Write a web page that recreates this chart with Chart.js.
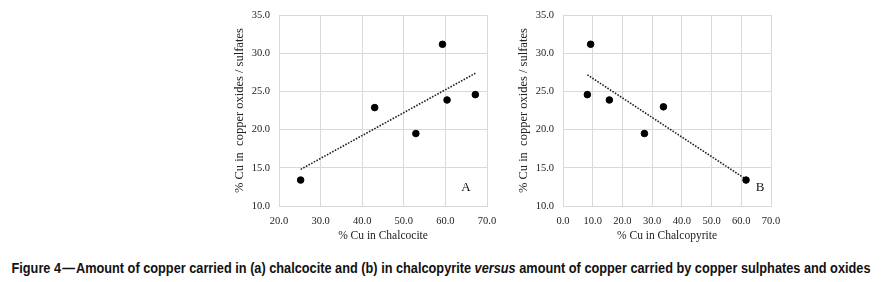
<!DOCTYPE html>
<html>
<head>
<meta charset="utf-8">
<script src="https://cdn.jsdelivr.net/npm/chart.js@4.4.0/dist/chart.umd.min.js"></script>
<style>
  body { margin: 0; background: #fff; width: 881px; height: 282px; position: relative; overflow: hidden; }
  .box { position: absolute; top: 0; width: 267px; height: 245px; }
  #capText {
    position: absolute; left: 440.5px; top: 259px;
    font-family: "Liberation Sans Narrow", "Liberation Sans", Arial, sans-serif;
    font-weight: bold; font-size: 15px; color: #111; white-space: nowrap;
    transform-origin: 50% 50%;
  }
</style>
</head>
<body>
<div class="box" style="left:230px"><canvas id="chartA"></canvas></div>
<div class="box" style="left:514px"><canvas id="chartB"></canvas></div>
<div id="capText">Figure 4&#8202;&mdash;&#8202;Amount of copper carried in (a) chalcocite and (b) in chalcopyrite <i>versus</i> amount of copper carried by copper sulphates and oxides</div>
<script>
// panel A: chalcocite
var chalcociteX = [25.2, 43.0, 52.9, 59.3, 60.4, 67.2];
var oxidesA     = [13.4, 22.9, 19.5, 31.2, 23.9, 24.6];
var trendAx = [25.2, 67.2];
var trendAy = [14.8, 27.4];

// panel B: chalcopyrite
var chalcopyriteX = [8.2, 9.3, 15.6, 27.4, 33.8, 61.6];
var oxidesB       = [24.6, 31.2, 23.9, 19.5, 23.0, 13.4];
var trendBx = [8.2, 61.6];
var trendBy = [27.2, 13.5];

var serif = "'Liberation Serif', 'DejaVu Serif', serif";

// squeeze the caption to the width it has in the figure
var cap = document.getElementById('capText');
var w = cap.getBoundingClientRect().width;
cap.style.transform = 'translateX(-50%) scaleX(' + (859 / w) + ')';

function pts(xs, ys){
  var out = [];
  for(var i = 0; i < xs.length; i++){
    out.push({x: xs[i], y: ys[i]});
  }
  return out;
}

// letter in the lower right corner of the plot
var cornerLetter = {
  id: 'cornerLetter',
  afterDraw: function(chart, args, opts){
    var ctx = chart.ctx, a = chart.chartArea;
    ctx.save();
    ctx.font = "13px " + serif;
    ctx.fillStyle = '#111';
    ctx.textAlign = 'center';
    ctx.textBaseline = 'middle';
    ctx.fillText(opts.text, a.right - opts.dx, a.bottom - 18);
    ctx.restore();
  }
};

function makeChart(id, xs, ys, tx, ty, xmin, xmax, xtitle, letter, dx){
  return new Chart(document.getElementById(id), {
    type: 'scatter',
    data: {
      datasets: [
        {
          label: 'data',
          data: pts(xs, ys),
          backgroundColor: '#000',
          borderColor: '#000',
          pointRadius: 3.3,
          pointHoverRadius: 3.3
        },
        {
          label: 'trend',
          type: 'line',
          data: pts(tx, ty),
          borderColor: '#222',
          borderWidth: 1.6,
          borderDash: [1.6, 1.4],
          pointRadius: 0,
          fill: false
        }
      ]
    },
    options: {
      responsive: true,
      maintainAspectRatio: false,
      animation: false,
      events: [],
      layout: { padding: { top: 14, right: 10, left: 0, bottom: 0 } },
      plugins: {
        legend: { display: false },
        tooltip: { enabled: false },
        cornerLetter: { text: letter, dx: dx }
      },
      scales: {
        x: {
          type: 'linear',
          min: xmin, max: xmax,
          grid: { color: '#d9d9d9', drawTicks: false },
          border: { color: '#d9d9d9' },
          ticks: {
            stepSize: 10, padding: 9, color: '#222',
            font: { family: serif, size: 10.5 },
            maxRotation: 0,
            callback: function(v){ return v.toFixed(1); }
          },
          title: {
            display: true, text: xtitle, color: '#222',
            font: { family: serif, size: 11.5 },
            padding: { top: 2, bottom: 2 }
          },
          afterFit: function(s){
            s.height = 39;
            s.paddingLeft = 0;
            s.paddingRight = 0;
          }
        },
        y: {
          min: 10, max: 35,
          grid: { color: '#d9d9d9', drawTicks: false },
          border: { color: '#d9d9d9' },
          ticks: {
            stepSize: 5, padding: 9, color: '#222',
            font: { family: serif, size: 10.5 },
            callback: function(v){ return v.toFixed(1); }
          },
          title: {
            display: true, text: '% Cu in  copper oxides / sulfates', color: '#222',
            font: { family: serif, size: 12.5 },
            padding: { top: 2, bottom: 2 }
          },
          afterFit: function(s){ s.width = 49; }
        }
      }
    },
    plugins: [cornerLetter]
  });
}

makeChart('chartA', chalcociteX, oxidesA, trendAx, trendAy, 20, 70, '% Cu in Chalcocite', 'A', 21);
makeChart('chartB', chalcopyriteX, oxidesB, trendBx, trendBy, 0, 70, '% Cu in Chalcopyrite', 'B', 11);
</script>
</body>
</html>
